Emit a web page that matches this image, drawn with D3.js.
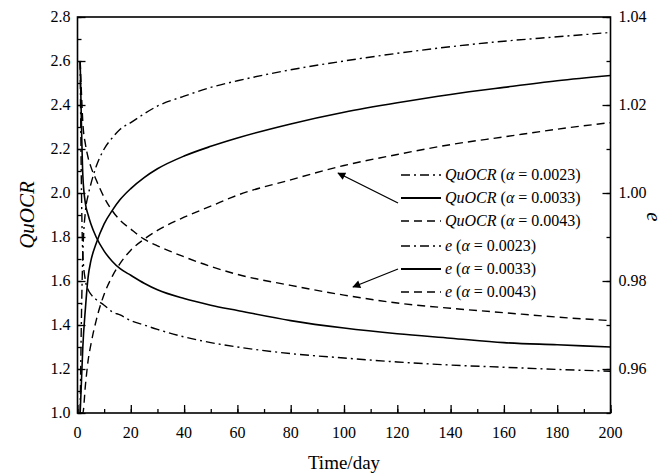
<!DOCTYPE html>
<html>
<head>
<meta charset="utf-8">
<script src="https://cdn.jsdelivr.net/npm/d3@7"></script>
<style>
  body { margin: 0; background: #fff; }
  svg text { font-family: "Liberation Serif", "Times New Roman", "DejaVu Serif", serif; fill: #000; }
</style>
</head>
<body>
<svg width="668" height="474" font-family="Liberation Serif, Times New Roman, serif"></svg>
<script>
// time grid (day)
const days = [1, 1.5, 2, 3, 4, 5, 7, 10, 13, 16, 20, 25, 30, 40, 50, 60, 80, 100, 120, 140, 160, 180, 200];

// QuOCR (left axis)
const quocr0023 = [1.0, 1.45, 1.72, 1.92, 1.99, 2.04, 2.12, 2.20, 2.25, 2.29, 2.32, 2.36, 2.395, 2.44, 2.48, 2.51, 2.56, 2.60, 2.635, 2.665, 2.69, 2.71, 2.73];
const quocr0033 = [1.0, 1.15, 1.30, 1.48, 1.62, 1.69, 1.77, 1.86, 1.92, 1.97, 2.02, 2.07, 2.11, 2.168, 2.212, 2.25, 2.314, 2.367, 2.41, 2.448, 2.48, 2.51, 2.534];
const quocr0043 = [1.0, 1.0, 1.0, 1.13, 1.24, 1.31, 1.42, 1.54, 1.62, 1.68, 1.74, 1.79, 1.83, 1.89, 1.94, 1.99, 2.06, 2.125, 2.175, 2.22, 2.255, 2.29, 2.32];

// e (right axis)
const e0023 = [1.030, 1.000, 0.986, 0.980, 0.978, 0.977, 0.9758, 0.9745, 0.973, 0.9723, 0.971, 0.970, 0.969, 0.9673, 0.966, 0.965, 0.9635, 0.9625, 0.9616, 0.9609, 0.9604, 0.9599, 0.9595];
const e0033 = [1.030, 1.015, 1.004, 0.9975, 0.995, 0.993, 0.990, 0.9868, 0.9845, 0.9828, 0.9813, 0.9795, 0.978, 0.976, 0.9745, 0.9733, 0.971, 0.9693, 0.968, 0.967, 0.966, 0.9655, 0.965];
const e0043 = [1.030, 1.0225, 1.016, 1.011, 1.008, 1.006, 1.003, 0.999, 0.996, 0.9938, 0.9918, 0.9895, 0.988, 0.9855, 0.9833, 0.9815, 0.979, 0.9768, 0.975, 0.9738, 0.9728, 0.9718, 0.971];

const xTicks = [0, 20, 40, 60, 80, 100, 120, 140, 160, 180, 200];
const leftTicks = [1.0, 1.2, 1.4, 1.6, 1.8, 2.0, 2.2, 2.4, 2.6, 2.8];
const rightTicks = [0.96, 0.98, 1.00, 1.02, 1.04];
const alphas = ["0.0023", "0.0033", "0.0043"];

const svg = d3.select("svg");
const plotLeft = 77.5, plotRight = 610.5, plotTop = 17, plotBottom = 413;
const serif = "Liberation Serif, Times New Roman, serif";

const x = d3.scaleLinear().domain([0, 200]).range([plotLeft, plotRight]);
const yL = d3.scaleLinear().domain([1.0, 2.8]).range([plotBottom, plotTop]);
const yR = d3.scaleLinear().domain([0.95, 1.04]).range([plotBottom, plotTop]);

const dashes = ["9,4,2,4", null, "8,5"];

function drawSeries(values, scale, dash) {
    const line = d3.line()
        .x((d, i) => x(days[i]))
        .y(d => scale(d))
        .curve(d3.curveMonotoneX);
    svg.append("path")
        .datum(values)
        .attr("d", line)
        .attr("fill", "none")
        .attr("stroke", "#000")
        .attr("stroke-width", dash ? 1.4 : 1.6)
        .attr("stroke-dasharray", dash);
}

[quocr0023, quocr0033, quocr0043].forEach((s, i) => drawSeries(s, yL, dashes[i]));
[e0023, e0033, e0043].forEach((s, i) => drawSeries(s, yR, dashes[i]));

// axes, ticks pointing inward
const fontSize = "16px";
svg.append("g")
    .attr("transform", `translate(0,${plotBottom})`)
    .call(d3.axisTop(x).tickValues(d3.range(0, 201, 10)).tickSize(4).tickFormat(""));
svg.append("g")
    .attr("transform", `translate(0,${plotBottom})`)
    .call(d3.axisTop(x).tickValues(xTicks).tickSize(8).tickFormat(""));

svg.append("g")
    .attr("transform", `translate(${plotLeft},0)`)
    .call(d3.axisRight(yL).tickValues(d3.range(10, 29, 1).map(v => v / 10)).tickSize(4).tickFormat(""));
svg.append("g")
    .attr("transform", `translate(${plotLeft},0)`)
    .call(d3.axisRight(yL).tickValues(leftTicks).tickSize(8).tickFormat(""));

svg.append("g")
    .attr("transform", `translate(${plotRight},0)`)
    .call(d3.axisLeft(yR).tickValues(d3.range(95, 105, 1).map(v => v / 100)).tickSize(4).tickFormat(""));
svg.append("g")
    .attr("transform", `translate(${plotRight},0)`)
    .call(d3.axisLeft(yR).tickValues(rightTicks).tickSize(8).tickFormat(""));

svg.selectAll(".domain").remove();
svg.selectAll(".tick line").attr("stroke", "#000").attr("stroke-width", 1.3);

svg.append("rect")
    .attr("x", plotLeft).attr("y", plotTop)
    .attr("width", plotRight - plotLeft).attr("height", plotBottom - plotTop)
    .attr("fill", "none").attr("stroke", "#000").attr("stroke-width", 1.6);

// tick labels
svg.selectAll(".xl").data(xTicks).enter().append("text")
    .attr("x", d => x(d)).attr("y", plotBottom + 25)
    .attr("text-anchor", "middle").attr("font-size", fontSize)
    .attr("font-family", serif)
    .text(d => d);
svg.selectAll(".yl").data(leftTicks).enter().append("text")
    .attr("x", plotLeft - 7).attr("y", d => yL(d) + 5)
    .attr("text-anchor", "end").attr("font-size", fontSize)
    .attr("font-family", serif)
    .text(d => d.toFixed(1));
svg.selectAll(".yr").data(rightTicks).enter().append("text")
    .attr("x", plotRight + 8).attr("y", d => yR(d) + 5)
    .attr("text-anchor", "start").attr("font-size", fontSize)
    .attr("font-family", serif)
    .text(d => d.toFixed(2));

// axis titles
svg.append("text")
    .attr("x", (plotLeft + plotRight) / 2).attr("y", 469)
    .attr("text-anchor", "middle").attr("font-size", "19px")
    .attr("font-family", serif)
    .text("Time/day");
svg.append("text")
    .attr("transform", "translate(34,215) rotate(-90)")
    .attr("text-anchor", "middle").attr("font-size", "21px")
    .attr("font-family", serif).attr("font-style", "italic")
    .text("QuOCR");
svg.append("text")
    .attr("transform", "translate(647,217) rotate(90)")
    .attr("text-anchor", "middle").attr("font-size", "21px")
    .attr("font-family", serif).attr("font-style", "italic")
    .text("e");

// legend
const legendRows = [];
alphas.forEach((a, i) => legendRows.push({ name: "QuOCR", alpha: a, dash: dashes[i] }));
alphas.forEach((a, i) => legendRows.push({ name: "e", alpha: a, dash: dashes[i] }));
const rowY = [175, 198, 221, 246, 269, 292];

legendRows.forEach((r, i) => {
    const y = rowY[i];
    svg.append("line")
        .attr("x1", 401).attr("x2", 441).attr("y1", y).attr("y2", y)
        .attr("stroke", "#000").attr("stroke-width", r.dash ? 1.4 : 1.8)
        .attr("stroke-dasharray", r.dash);
    const t = svg.append("text")
        .attr("x", 445).attr("y", y + 5).attr("font-size", "16px")
        .attr("font-family", serif);
    t.append("tspan").attr("font-style", "italic").text(r.name);
    t.append("tspan").text(" (");
    t.append("tspan").attr("font-style", "italic").text("\u03b1");
    t.append("tspan").text(" = " + r.alpha + ")");
});

// arrows
svg.append("defs").append("marker")
    .attr("id", "arrow").attr("viewBox", "0 0 10 10")
    .attr("refX", 9).attr("refY", 5)
    .attr("markerWidth", 10).attr("markerHeight", 8)
    .attr("markerUnits", "userSpaceOnUse")
    .attr("orient", "auto")
    .append("path").attr("d", "M0,0 L10,5 L0,10 z").attr("fill", "#000");

svg.append("line")
    .attr("x1", 398).attr("y1", 203).attr("x2", 338).attr("y2", 173)
    .attr("stroke", "#000").attr("stroke-width", 1.3)
    .attr("marker-end", "url(#arrow)");
svg.append("line")
    .attr("x1", 398).attr("y1", 269).attr("x2", 353).attr("y2", 287)
    .attr("stroke", "#000").attr("stroke-width", 1.3)
    .attr("marker-end", "url(#arrow)");
</script>
</body>
</html>
